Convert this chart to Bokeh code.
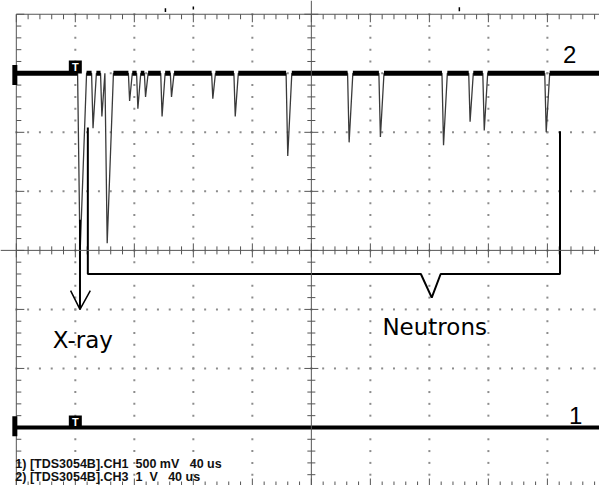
import numpy as np
from bokeh.plotting import figure
from bokeh.models import Range1d, Label, Span
from bokeh.embed import file_html
from bokeh.resources import INLINE

# ---- scope settings ----
time_scale_us = 40.0      # us / div
ch1_scale_V = 0.5         # V / div  (CH1 500 mV)
ch2_scale_V = 1.0         # V / div  (CH3 1 V, shown as trace 2)
trigger_div = -4.0        # trigger position (div from centre)
ch2_offset_div = 3.0
ch1_offset_div = -3.0

# ---- pulses on trace 2 (time after trigger, amplitude) ----
pulse_time_us = [3.2, 12.0, 18.0, 21.6, 36.8, 42.4, 47.6, 58.8, 65.2,
                 93.2, 108.4, 144.0, 185.6, 206.8, 249.6, 267.6, 277.2, 319.2]
pulse_amp_V = [-3.07, -0.93, -0.73, -2.88, -0.47, -0.60, -0.40, -0.73, -0.40,
               -0.43, -0.73, -1.40, -1.17, -1.08, -1.22, -0.82, -0.97, -1.00]

header_lines = ["1) [TDS3054B].CH1\u00a0\u00a0500 mV\u00a0\u00a0\u00a040 us",
                "2) [TDS3054B].CH3\u00a0\u00a01\u00a0\u00a0V\u00a0\u00a0\u00a040 us"]
label_xray = "X-ray"
label_neutrons = "Neutrons"

# ---- geometry ----
W, H = 599, 485
X0, X1 = -5.268, 4.883
Y0, Y1 = -3.983, 4.233
PX = W / (X1 - X0)   # px per horizontal div
PY = H / (Y1 - Y0)   # px per vertical div

p = figure(width=W, height=H, x_range=Range1d(X0, X1), y_range=Range1d(Y0, Y1),
           output_backend="svg", toolbar_location=None, x_axis_type=None, y_axis_type=None,
           min_border=0, min_border_left=0, min_border_right=0, min_border_top=0,
           min_border_bottom=0, outline_line_color=None, background_fill_color="white")
p.grid.visible = False

grid_col = "#8c8c8c"
axis_col = "#555555"

# dotted graticule
dx, dy = [], []
for gx in range(-4, 5):
    if gx == 0:
        continue
    ys = np.arange(-4.0, 4.01, 0.2)
    dx += [gx] * len(ys)
    dy += list(ys)
for gy in range(-3, 4):
    if gy == 0:
        continue
    xs = np.arange(-5.0, 5.01, 0.2)
    dx += list(xs)
    dy += [gy] * len(xs)
p.scatter(dx, dy, marker="square", size=2, color=grid_col, line_color=None)

# centre axes
p.add_layout(Span(location=0, dimension="height", line_color=axis_col, line_width=1))
p.add_layout(Span(location=0, dimension="width", line_color=axis_col, line_width=1))
# frame lines (top and left)
p.segment(x0=[-5.0], y0=[4.0], x1=[X1], y1=[4.0], line_color=axis_col, line_width=1)
p.segment(x0=[-5.0], y0=[Y0], x1=[-5.0], y1=[4.0], line_color=axis_col, line_width=1)

# ticks
tx = np.round(np.arange(-5.0, 5.01, 0.2), 3)
ty = np.round(np.arange(-4.0, 4.01, 0.2), 3)
def is_major(v):
    return abs(v - round(v)) < 1e-6

x0s, y0s, x1s, y1s = [], [], [], []
for v in tx:  # horizontal centre axis
    L = (7 if is_major(v) else 4) / PY
    x0s.append(v); x1s.append(v); y0s.append(-L); y1s.append(L)
for v in ty:  # vertical centre axis
    L = (7 if is_major(v) else 4) / PX
    x0s.append(-L); x1s.append(L); y0s.append(v); y1s.append(v)
for v in tx:  # top border (down)
    L = (8 if is_major(v) else 5) / PY
    x0s.append(v); x1s.append(v); y0s.append(4.0); y1s.append(4.0 - L)
for v in tx:  # bottom border (up)
    L = (8 if is_major(v) else 5) / PY
    x0s.append(v); x1s.append(v); y0s.append(-4.0); y1s.append(-4.0 + L)
for v in ty:  # left border (right)
    L = (8 if is_major(v) else 5) / PX
    x0s.append(-5.0); x1s.append(-5.0 + L); y0s.append(v); y1s.append(v)
p.segment(x0=x0s, y0=y0s, x1=x1s, y1=y1s, line_color=axis_col, line_width=1)

# ---- trace 2 ----
def t2x(t):
    return np.asarray(t, dtype=float) / time_scale_us + trigger_div

tip_x = t2x(pulse_time_us)
tip_y = ch2_offset_div + np.asarray(pulse_amp_V) / ch2_scale_V
depth_px = (ch2_offset_div - tip_y) * PY
starts = tip_x - (1.0 + 0.008 * depth_px) / PX
ends = tip_x + (2.0 + 0.025 * depth_px) / PX
for i in range(len(starts) - 1):
    if ends[i] > starts[i + 1]:
        m = 0.5 * (ends[i] + starts[i + 1])
        ends[i] = m
        starts[i + 1] = m

tr_x, tr_y = [-5.0], [ch2_offset_div]
for s, tx_, ty_, e in zip(starts, tip_x, tip_y, ends):
    tr_x += [s, tx_, e]
    tr_y += [ch2_offset_div, ty_, ch2_offset_div]
tr_x.append(X1)
tr_y.append(ch2_offset_div)
p.line(tr_x, tr_y, line_color="#3a3a3a", line_width=1.3)

bx0 = [-5.0] + list(ends)
bx1 = list(starts) + [X1]
seg_x = [[a, b] for a, b in zip(bx0, bx1) if b - a > 0]
seg_y = [[ch2_offset_div, ch2_offset_div] for _ in seg_x]
p.multi_line(seg_x, seg_y, line_color="black", line_width=5)

# ---- trace 1 (flat) ----
p.line([-5.0, X1], [ch1_offset_div, ch1_offset_div], line_color="black", line_width=4)

# ground markers and trigger markers
p.rect(x=[-5.025, -5.025], y=[ch2_offset_div - 0.03, ch1_offset_div + 0.02], width=5, height=20,
       width_units="screen", height_units="screen", fill_color="black", line_color=None)
tmk_x = [trigger_div, trigger_div]
tmk_y = [ch2_offset_div + 0.108, ch1_offset_div + 0.092]
p.rect(x=tmk_x, y=tmk_y, width=13, height=13, width_units="screen", height_units="screen",
       fill_color="black", line_color=None)
for yy in tmk_y:
    p.add_layout(Label(x=trigger_div, y=yy, text="T", text_color="white", text_font="Liberation Sans",
                       text_font_style="bold", text_font_size="11px", text_align="center",
                       text_baseline="middle"))

# small trigger-position marks at the top
p.segment(x0=[-2.473, -2.0, 2.508], y0=[4.10, 4.13, 4.12], x1=[-2.473, -2.0, 2.508], y1=[4.04, 4.08, 4.05],
          line_color="black", line_width=1.5)

# ---- annotations ----
ann_col = "black"
br_x = [-3.788, -3.788, 1.856, 2.040, 2.191, 4.214, 4.214]
br_y = [2.083, -0.40, -0.40, -0.80, -0.40, -0.40, 2.017]
p.line(br_x, br_y, line_color=ann_col, line_width=2)
p.line([-3.921, -3.921], [0.517, -1.0], line_color=ann_col, line_width=2)
p.line([-4.080, -3.921, -3.746], [-0.683, -1.0, -0.683], line_color=ann_col, line_width=1.5)

p.add_layout(Label(x=-4.381, y=-1.517, text=label_xray, text_font="DejaVu Sans",
                   text_font_size="23px", text_color="black", text_baseline="alphabetic"))
p.add_layout(Label(x=1.204, y=-1.30, text=label_neutrons, text_font="DejaVu Sans",
                   text_font_size="23px", text_color="black", text_baseline="alphabetic"))
p.add_layout(Label(x=4.264, y=3.317, text="2", text_font="Liberation Sans",
                   text_font_size="24px", text_color="black", text_baseline="alphabetic"))
p.add_layout(Label(x=4.365, y=-2.80, text="1", text_font="Liberation Sans",
                   text_font_size="24px", text_color="black", text_baseline="alphabetic"))
for yy, txt in zip([-3.625, -3.84], header_lines):
    p.add_layout(Label(x=-5.017, y=yy, text=txt, text_font="Liberation Sans", text_font_style="bold",
                       text_font_size="12.5px", text_color="#111111", text_baseline="alphabetic"))

open("out.html", "w").write(file_html(p, INLINE))
